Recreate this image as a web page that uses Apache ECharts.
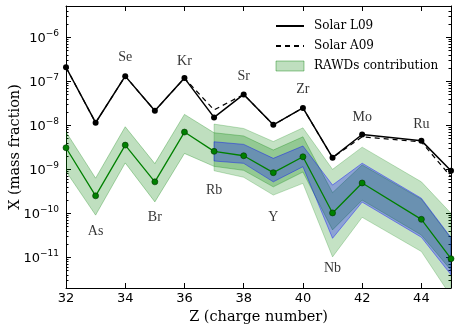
<!DOCTYPE html>
<html><head><meta charset="utf-8">
<script src="https://cdn.jsdelivr.net/npm/echarts@6/dist/echarts.min.js"></script>
<style>html,body{margin:0;padding:0;background:#fff}#c{width:457px;height:333px}</style>
</head><body><div id="c"></div>
<script>
// ---- data ----
const Z = [32,33,34,35,36,37,38,39,40,41,42,44,45];
const solarL09 = [2.1e-7,1.15e-8,1.32e-7,2.15e-8,1.19e-7,1.52e-8,5.07e-8,1.03e-8,2.5e-8,1.84e-9,6.2e-9,4.5e-9,9.3e-10];
const solarA09 = [2.1e-7,1.15e-8,1.32e-7,2.15e-8,1.19e-7,2.25e-8,5.07e-8,1.03e-8,2.5e-8,1.84e-9,5.5e-9,4.2e-9,6.8e-10];
const rawds    = [3.1e-9,2.5e-10,3.56e-9,5.2e-10,7.05e-9,2.57e-9,2.04e-9,8.4e-10,1.93e-9,1.02e-10,4.9e-10,7.3e-11,9.3e-12];
const rawdsHi  = [7.1e-9,6.3e-10,9.3e-9,1.35e-9,1.78e-8,6.8e-9,5.75e-9,2.75e-9,5.5e-9,2.95e-10,1.26e-9,2.1e-10,2.7e-11];
const rawdsLo  = [9.0e-10,9.1e-11,1.4e-9,1.82e-10,2.3e-9,1.17e-9,9.5e-10,4.0e-10,8.7e-10,4.2e-11,2.0e-10,3.2e-11,5.1e-12];
const Zb = [37,38,39,40,41,42,44,45];
const wideHi = [1.07e-8,8.5e-9,4.3e-9,8.8e-9,1.0e-9,3.2e-9,5.2e-10,1.0e-10];
const wideLo = [9.3e-10,6.6e-10,2.6e-10,4.8e-10,1.02e-11,8.1e-11,1.35e-11,1.3e-12];
const blueHi = [4.24e-9,3.7e-9,1.78e-9,3.4e-9,4.4e-10,1.38e-9,2.2e-10,2.8e-11];
const blueLo = [1.55e-9,1.37e-9,5.2e-10,1.15e-9,2.7e-11,1.8e-10,2.85e-11,4.0e-12];
const elemNames = ['As','Se','Br','Kr','Rb','Sr','Y','Zr','Nb','Mo','Ru'];
const elemZ = [33,34,35,36,37,38,39,40,41,42,44];
const elemY = [3.96e-11,3.5e-7,8.1e-11,2.9e-7,3.4e-10,1.3e-7,8.2e-11,6.7e-8,5.6e-12,1.55e-8,1.07e-8];
const xTicks = [32,34,36,38,40,42,44];
const yTickExps = [-11,-10,-9,-8,-7,-6];
const yMin = 2e-12, yMax = 5.2e-6;

// ---- build ----
const minorLogs = [];
for (let n = -12; n <= -6; n++) for (let k = 2; k <= 9; k++) {
  const v = Math.log10(k) + n;
  if (v > Math.log10(yMin) && v < Math.log10(yMax)) minorLogs.push(v);
}
function band(name, xs, lo, hi, fill, stroke, z) {
  const data = xs.map((x, i) => [x, lo[i], hi[i]]);
  return {
    type: 'custom', name, clip: true, z, data, encode: {x: 0, y: [1, 2]},
    renderItem(params, api) {
      if (params.dataIndex !== 0) return;
      const top = data.map(d => api.coord([d[0], d[2]]));
      const bot = data.map(d => api.coord([d[0], d[1]])).reverse();
      return {type: 'polygon', shape: {points: top.concat(bot)}, style: {fill, stroke, lineWidth: 1}};
    }
  };
}
const blk = '#000';
const tickFont = {fontFamily: 'DejaVu Sans', fontSize: 13, color: blk};
function xAx(pos, labels) {
  return {
    type: 'value', position: pos, min: 32, max: 45, interval: 2,
    axisLine: {show: true, onZero: false, lineStyle: {color: blk, width: 1}},
    axisTick: {show: true, inside: true, length: 5, lineStyle: {color: blk}},
    axisLabel: labels ? Object.assign({show: true, margin: 4, showMaxLabel: false,
      formatter: v => xTicks.indexOf(v) >= 0 ? String(v) : ''}, tickFont) : {show: false},
    splitLine: {show: false}
  };
}
function yLog(pos, labels) {
  return {
    type: 'log', logBase: 10, position: pos, min: yMin, max: yMax, splitNumber: 7,
    axisLine: {show: true, onZero: false, lineStyle: {color: blk, width: 1}},
    axisTick: {show: true, inside: true, length: 5, lineStyle: {color: blk}},
    axisLabel: labels ? {
      show: true, margin: 7, showMinLabel: false, showMaxLabel: false,
      formatter: v => {
        const l = Math.log10(v), e = Math.round(l);
        if (Math.abs(l - e) > 1e-6 || yTickExps.indexOf(e) < 0) return '';
        return '{b|10}{s|\u2212' + (-e) + '}';
      },
      rich: {
        b: {fontFamily: 'DejaVu Sans', fontSize: 13, lineHeight: 16, verticalAlign: 'bottom', color: blk},
        s: {fontFamily: 'DejaVu Sans', fontSize: 9, lineHeight: 9, verticalAlign: 'top', color: blk}
      }
    } : {show: false},
    splitLine: {show: false}, minorTick: {show: false}
  };
}
function yMinor(pos) {
  return {
    type: 'value', position: pos, min: Math.log10(yMin), max: Math.log10(yMax),
    axisLine: {show: false}, axisLabel: {show: false}, splitLine: {show: false},
    axisTick: {show: true, inside: true, length: 2.5, customValues: minorLogs, lineStyle: {color: blk}}
  };
}
const y0 = yLog('left', true);
y0.name = 'X (mass fraction)';
y0.nameLocation = 'middle';
y0.nameGap = 43;
y0.nameMoveOverlap = false;
y0.nameTextStyle = {fontFamily: 'DejaVu Serif', fontSize: 14.5, color: blk};
const x0 = xAx('bottom', true);
x0.name = 'Z (charge number)';
x0.nameLocation = 'middle';
x0.nameGap = 22;
x0.nameMoveOverlap = false;
x0.nameTextStyle = {fontFamily: 'DejaVu Serif', fontSize: 14.5, color: blk};

const chart = echarts.init(document.getElementById('c'), null, {renderer: 'canvas'});
chart.setOption({
  animation: false,
  backgroundColor: '#fff',
  grid: {left: 66, right: 6, top: 6, bottom: 45, containLabel: false, outerBoundsMode: 'none'},
  xAxis: [x0, xAx('top', false)],
  yAxis: [y0, yLog('right', false), yMinor('left'), yMinor('right')],
  legend: {
    orient: 'vertical', left: 270, top: 15, itemWidth: 28, itemHeight: 10, itemGap: 8,
    selectedMode: false,
    textStyle: {fontFamily: 'DejaVu Serif', fontSize: 12, color: blk, padding: [0, 0, 0, 5]},
    data: [
      {name: 'Solar L09', itemStyle: {opacity: 0}},
      {name: 'Solar A09', itemStyle: {opacity: 0}},
      {name: 'RAWDs contribution', icon: 'rect',
       itemStyle: {color: 'rgba(0,128,0,0.25)', borderColor: 'rgba(0,128,0,0.4)', borderWidth: 1, opacity: 1}}
    ]
  },
  series: [
    band('wide', Zb, wideLo, wideHi, 'rgba(0,128,0,0.23)', 'rgba(0,128,0,0.23)', 1),
    band('RAWDs contribution', Z, rawdsLo, rawdsHi, 'rgba(0,128,0,0.25)', 'rgba(0,128,0,0.3)', 2),
    band('blue', Zb, blueLo, blueHi, 'rgba(0,0,255,0.28)', 'rgba(0,0,255,0.4)', 3),
    {type: 'line', name: 'Solar A09', z: 4, data: Z.map((z, i) => [z, solarA09[i]]), symbol: 'none',
     lineStyle: {color: blk, width: 1.2, type: [5, 4]}, itemStyle: {color: blk}},
    {type: 'line', name: 'Solar L09', z: 5, data: Z.map((z, i) => [z, solarL09[i]]), symbol: 'circle', symbolSize: 6,
     lineStyle: {color: blk, width: 1.5}, itemStyle: {color: blk}},
    {type: 'line', name: 'RAWDs', z: 6, data: Z.map((z, i) => [z, rawds[i]]), symbol: 'circle', symbolSize: 6,
     lineStyle: {color: '#008000', width: 1.3}, itemStyle: {color: '#008000', borderColor: '#003300', borderWidth: 0.6}},
    {type: 'scatter', name: 'labels', z: 7, symbolSize: 0, silent: true,
     data: elemZ.map((z, i) => ({value: [z, elemY[i]], name: elemNames[i]})),
     label: {show: true, position: 'inside', formatter: '{b}', fontFamily: 'Liberation Serif', fontSize: 14, color: blk}}
  ]
});
</script></body></html>
